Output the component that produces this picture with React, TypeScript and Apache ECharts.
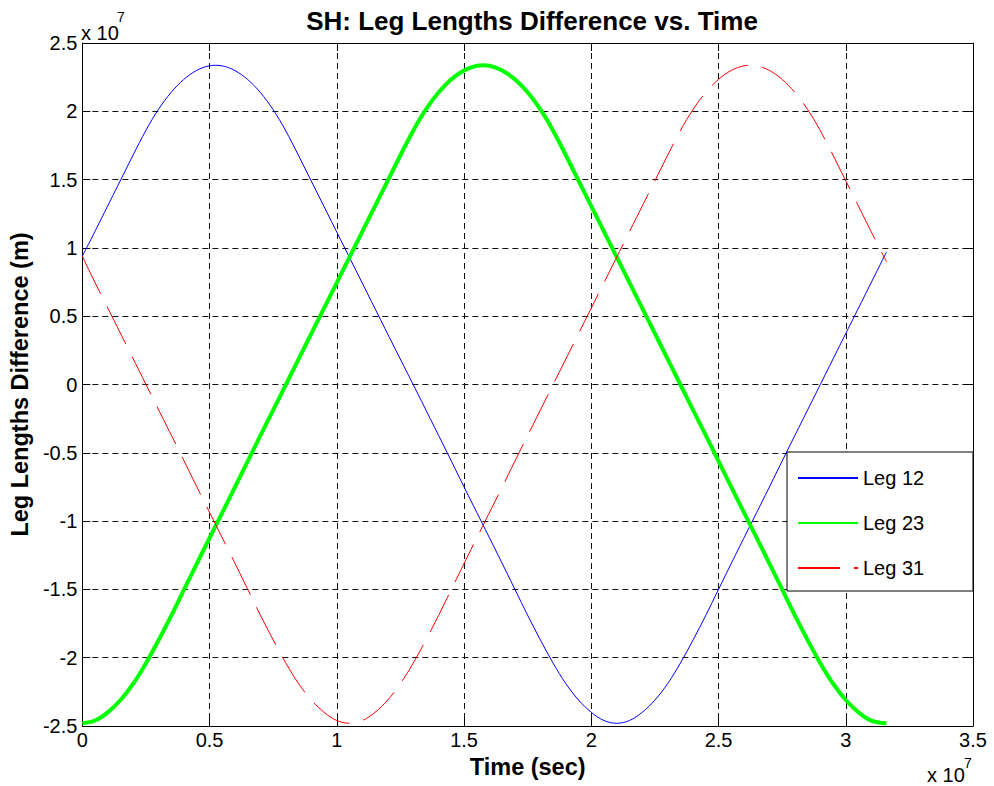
import React, { useEffect, useRef } from 'react';
import * as echarts from 'echarts';

const SCALE = 1e7;
const xTickLabels = ['0', '0.5', '1', '1.5', '2', '2.5', '3', '3.5'];
const yTickLabels = ['-2.5', '-2', '-1.5', '-1', '-0.5', '0', '0.5', '1', '1.5', '2', '2.5'];
const seriesNames = ['Leg 12', 'Leg 23', 'Leg 31'];

// values, in units of 1e7 (time in sec, difference in m)
const leg12Time = [0, 0.034, 0.104, 0.174, 0.224, 0.274, 0.324, 0.374, 0.424, 0.474, 0.524, 0.574, 0.624, 0.674, 0.724, 0.774, 0.824, 0.874, 0.944, 1.014, 1.084, 1.154, 1.224, 1.3, 1.367, 1.434, 1.5, 1.567, 1.634, 1.7, 1.75, 1.8, 1.85, 1.9, 1.95, 2.0, 2.05, 2.1, 2.15, 2.2, 2.25, 2.3, 2.35, 2.4, 2.45, 2.5, 2.566, 2.633, 2.7, 2.766, 2.833, 2.9, 2.975, 3.045, 3.115, 3.16];
const leg12Value = [0.94, 1.063, 1.324, 1.585, 1.77, 1.94, 2.08, 2.19, 2.27, 2.32, 2.337, 2.32, 2.27, 2.19, 2.08, 1.94, 1.77, 1.585, 1.324, 1.063, 0.802, 0.541, 0.28, 0, -0.25, -0.5, -0.75, -1.0, -1.25, -1.5, -1.69, -1.87, -2.04, -2.19, -2.31, -2.4, -2.46, -2.48, -2.46, -2.4, -2.31, -2.19, -2.04, -1.87, -1.69, -1.5, -1.25, -1.0, -0.75, -0.5, -0.25, 0, 0.28, 0.541, 0.802, 0.97];

const leg23Time = [0, 0.05, 0.1, 0.15, 0.2, 0.25, 0.3, 0.35, 0.4, 0.466, 0.533, 0.6, 0.666, 0.733, 0.8, 0.875, 0.945, 1.015, 1.085, 1.155, 1.225, 1.275, 1.325, 1.375, 1.425, 1.475, 1.525, 1.575, 1.625, 1.675, 1.725, 1.775, 1.825, 1.875, 1.925, 1.995, 2.065, 2.135, 2.205, 2.275, 2.35, 2.417, 2.484, 2.55, 2.617, 2.684, 2.75, 2.8, 2.85, 2.9, 2.95, 3.0, 3.05, 3.1, 3.16];
const leg23Value = [-2.48, -2.46, -2.4, -2.31, -2.19, -2.04, -1.87, -1.69, -1.5, -1.25, -1.0, -0.75, -0.5, -0.25, 0, 0.28, 0.541, 0.802, 1.063, 1.324, 1.585, 1.77, 1.94, 2.08, 2.19, 2.27, 2.32, 2.337, 2.32, 2.27, 2.19, 2.08, 1.94, 1.77, 1.585, 1.324, 1.063, 0.802, 0.541, 0.28, 0, -0.25, -0.5, -0.75, -1.0, -1.25, -1.5, -1.69, -1.87, -2.04, -2.19, -2.31, -2.4, -2.46, -2.48];

const leg31Time = [0, 0.035, 0.105, 0.175, 0.25, 0.317, 0.384, 0.45, 0.517, 0.584, 0.65, 0.7, 0.75, 0.8, 0.85, 0.9, 0.95, 1.0, 1.05, 1.1, 1.15, 1.2, 1.25, 1.3, 1.35, 1.4, 1.45, 1.516, 1.583, 1.65, 1.716, 1.783, 1.85, 1.925, 1.995, 2.065, 2.135, 2.205, 2.275, 2.325, 2.375, 2.425, 2.475, 2.525, 2.575, 2.625, 2.675, 2.725, 2.775, 2.825, 2.875, 2.925, 2.975, 3.045, 3.115, 3.16];
const leg31Value = [0.94, 0.802, 0.541, 0.28, 0, -0.25, -0.5, -0.75, -1.0, -1.25, -1.5, -1.69, -1.87, -2.04, -2.19, -2.31, -2.4, -2.46, -2.48, -2.46, -2.4, -2.31, -2.19, -2.04, -1.87, -1.69, -1.5, -1.25, -1.0, -0.75, -0.5, -0.25, 0, 0.28, 0.541, 0.802, 1.063, 1.324, 1.585, 1.77, 1.94, 2.08, 2.19, 2.27, 2.32, 2.337, 2.32, 2.27, 2.19, 2.08, 1.94, 1.77, 1.585, 1.324, 1.063, 0.9];

const FONT = '"Liberation Sans", Arial, Helvetica, sans-serif';

export default function App() {
  const ref = useRef<HTMLDivElement>(null);

  useEffect(() => {
    const chart = echarts.init(ref.current as HTMLDivElement, null, { renderer: 'svg' });
    const mk = (t: number[], v: number[]) => t.map((x, i) => [x * SCALE, v[i] * SCALE]);
    const black = '#000';
    const gridLine = { show: true, lineStyle: { color: '#111', type: [6, 4], width: 1 } };
    const tick = { show: true, inside: true, length: 8, lineStyle: { color: black, width: 1 } };
    const axisLine = { show: true, onZero: false, lineStyle: { color: black, width: 1 } };
    const labelStyle = { fontSize: 20, color: black, fontFamily: FONT };
    const nameStyle = { fontSize: 23.5, fontWeight: 'bold', color: black, fontFamily: FONT };

    chart.setOption({
      animation: false,
      backgroundColor: '#fff',
      textStyle: { fontFamily: FONT },
      title: {
        text: 'SH: Leg Lengths Difference vs. Time',
        left: 527,
        top: 3,
        textAlign: 'center',
        textStyle: { fontSize: 26, fontWeight: 'bold', color: black, fontFamily: FONT },
      },
      grid: { left: 81, right: 21, top: 43, bottom: 60, containLabel: false },
      xAxis: [
        {
          type: 'value', min: 0, max: 3.5 * SCALE, interval: 0.5 * SCALE, position: 'bottom',
          name: 'Time (sec)', nameLocation: 'middle', nameGap: 27, nameTextStyle: nameStyle,
          axisLine, axisTick: tick,
          axisLabel: { ...labelStyle, margin: 4, formatter: (v: number) => xTickLabels[Math.round(v / (0.5 * SCALE))] },
          splitLine: gridLine,
        },
        {
          type: 'value', min: 0, max: 3.5 * SCALE, interval: 0.5 * SCALE, position: 'top',
          axisLine, axisTick: tick, axisLabel: { show: false }, splitLine: { show: false },
        },
      ],
      yAxis: [
        {
          type: 'value', min: -2.5 * SCALE, max: 2.5 * SCALE, interval: 0.5 * SCALE, position: 'left',
          name: 'Leg Lengths Difference (m)', nameLocation: 'middle', nameGap: 47, nameTextStyle: nameStyle,
          axisLine, axisTick: tick,
          axisLabel: { ...labelStyle, margin: 5, formatter: (v: number) => yTickLabels[Math.round((v + 2.5 * SCALE) / (0.5 * SCALE))] },
          splitLine: gridLine,
        },
        {
          type: 'value', min: -2.5 * SCALE, max: 2.5 * SCALE, interval: 0.5 * SCALE, position: 'right',
          axisLine, axisTick: tick, axisLabel: { show: false }, splitLine: { show: false },
        },
      ],
      legend: {
        data: seriesNames,
        orient: 'vertical',
        left: 787,
        top: 452,
        padding: [16, 10, 10, 10],
        itemWidth: 60,
        itemHeight: 18,
        itemGap: 25,
        itemStyle: { opacity: 0 },
        textStyle: { fontSize: 20, color: black, fontFamily: FONT },
        z: 5,
      },
      graphic: [
        { type: 'rect', z: 3, shape: { x: 787, y: 452, width: 186, height: 139 }, style: { fill: '#fff', stroke: black, lineWidth: 1 } },
        { type: 'text', x: 81, y: 33, style: { text: 'x 10', fontSize: 20, fontFamily: FONT, fill: black, verticalAlign: 'middle', align: 'left' } },
        { type: 'text', x: 117, y: 17, style: { text: '7', fontSize: 14, fontFamily: FONT, fill: black, verticalAlign: 'middle', align: 'left' } },
        { type: 'text', x: 927, y: 775, style: { text: 'x 10', fontSize: 20, fontFamily: FONT, fill: black, verticalAlign: 'middle', align: 'left' } },
        { type: 'text', x: 964, y: 763, style: { text: '7', fontSize: 14, fontFamily: FONT, fill: black, verticalAlign: 'middle', align: 'left' } },
      ],
      series: [
        {
          name: seriesNames[0], type: 'line', data: mk(leg12Time, leg12Value), symbol: 'none', showSymbol: false,
          smooth: 0.35, lineStyle: { color: '#0000ff', width: 1 }, itemStyle: { color: '#0000ff' }, z: 2,
        },
        {
          name: seriesNames[1], type: 'line', data: mk(leg23Time, leg23Value), symbol: 'none', showSymbol: false,
          smooth: 0.35, lineStyle: { color: '#00ff00', width: 4 }, itemStyle: { color: '#00ff00' }, z: 2,
        },
        {
          name: seriesNames[2], type: 'line', data: mk(leg31Time, leg31Value), symbol: 'none', showSymbol: false,
          smooth: 0.35, lineStyle: { color: '#ff0000', width: 1, type: [42, 14] }, itemStyle: { color: '#ff0000' }, z: 2,
        },
      ],
    });
    return () => chart.dispose();
  }, []);

  return <div ref={ref} style={{ position: 'absolute', left: 0, top: 0, width: 994, height: 786 }} />;
}
